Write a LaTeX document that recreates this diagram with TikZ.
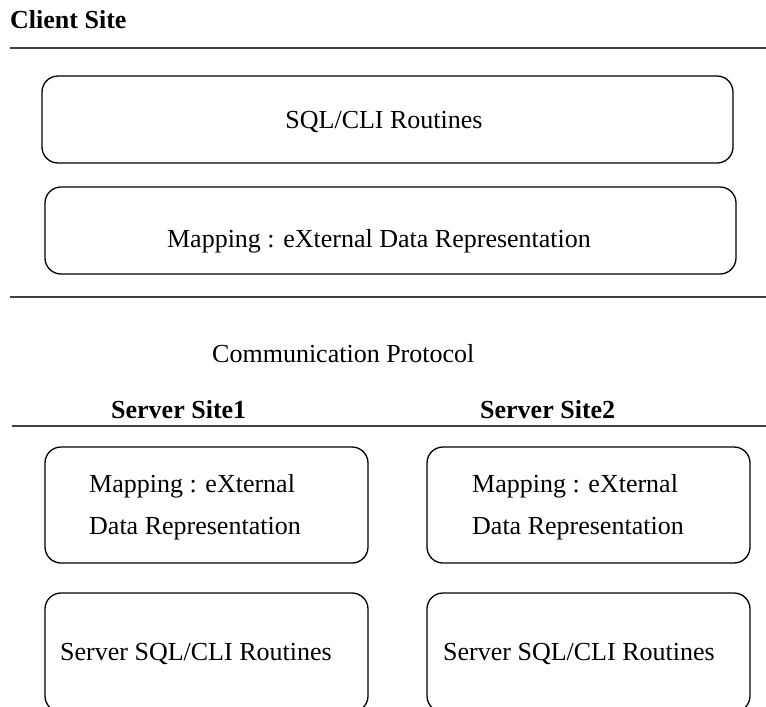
\documentclass[tikz,border=0pt]{standalone}
\usepackage{fontspec}
\setmainfont{Liberation Serif}
\begin{document}
\begin{tikzpicture}[x=1pt,y=-1pt,
  rule/.style={draw=black!75, line width=2pt},
  layerbox/.style={draw=black, line width=1.3pt, rounded corners=16pt},
  label/.style={inner sep=0pt, anchor=base west, font=\fontsize{26}{30}\selectfont},
  title/.style={label, font=\fontsize{26}{30}\selectfont\bfseries}]
\useasboundingbox (0,0) rectangle (766,707);
\clip (0,0) rectangle (766,707);

% client site
\node[title] (client) at (10,28) {Client Site};
\coordinate (r1a) at (10,48);  \coordinate (r1b) at (766,48);
\draw[rule] (r1a) -- (r1b);

\draw[layerbox] (42,76) rectangle (733,163);
\node[label, anchor=base] (cli) at (384,128) {SQL/CLI Routines};
\draw[layerbox] (45,187) rectangle (736,274);
\node[label, anchor=base] (xdr) at (379,247) {Mapping : eXternal Data Representation};

\coordinate (r2a) at (10,297); \coordinate (r2b) at (766,297);
\draw[rule] (r2a) -- (r2b);

% protocol
\node[label] (proto) at (212,362) {Communication Protocol};

% server sites
\node[title] (s1) at (111,418) {Server Site1};
\node[title] (s2) at (480,418) {Server Site2};
\coordinate (r3a) at (12,426); \coordinate (r3b) at (766,426);
\draw[rule] (r3a) -- (r3b);

\draw[layerbox] (45,447) rectangle (368,563);
\node[label] (m1a) at (89,492) {Mapping : eXternal};
\node[label] (m1b) at (89,534) {Data Representation};
\draw[layerbox] (45,593) rectangle (368,712);
\node[label] (sr1) at (60,660) {Server SQL/CLI Routines};

\draw[layerbox] (427,447) rectangle (750,563);
\node[label] (m2a) at (472,492) {Mapping : eXternal};
\node[label] (m2b) at (472,534) {Data Representation};
\draw[layerbox] (427,593) rectangle (750,712);
\node[label] (sr2) at (443,660) {Server SQL/CLI Routines};
\end{tikzpicture}
\end{document}
